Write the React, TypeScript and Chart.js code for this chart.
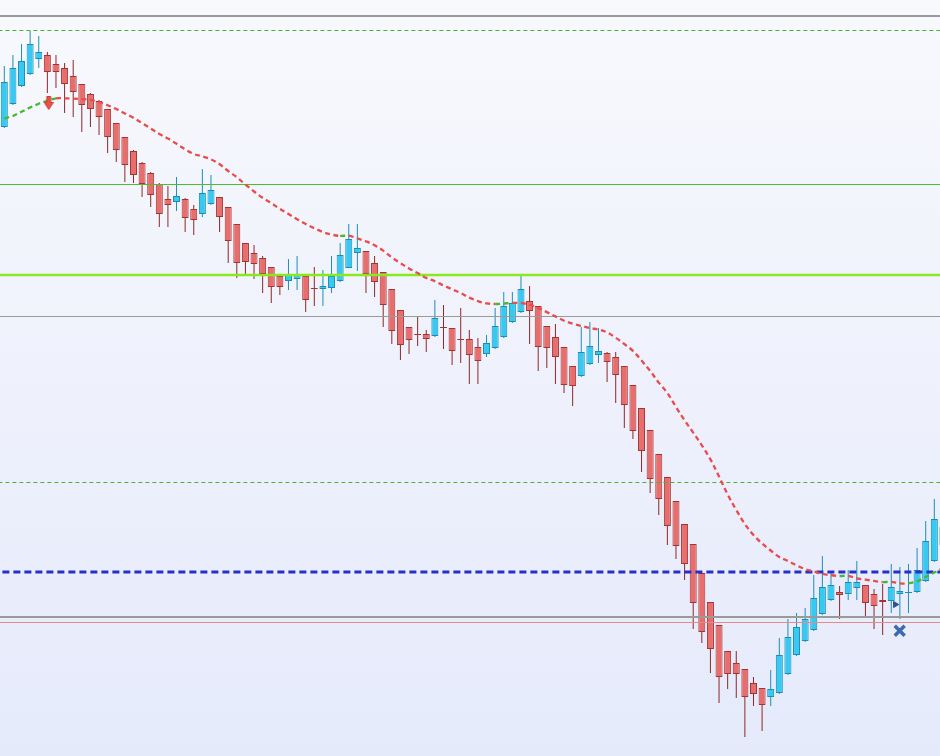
import React, { useEffect, useRef } from "react";
import { Chart, registerables } from "chart.js";

Chart.register(...registerables);

// ---- Candle data (index 0 .. 109) ----
const OPEN = [
  1.1873, 1.1896, 1.1914, 1.1926, 1.1941, 1.1945, 1.1936, 1.1932, 1.1924, 1.1916,
  1.1906, 1.1899, 1.1891, 1.1877, 1.1863, 1.1849, 1.1837, 1.1827, 1.1816, 1.1801,
  1.1798, 1.1801, 1.1791, 1.1786, 1.1796, 1.1803, 1.1793, 1.1776, 1.1757, 1.1747,
  1.1742, 1.1733, 1.1724, 1.1719, 1.1721, 1.1724, 1.1712, 1.1711, 1.1712, 1.1719,
  1.1732, 1.1747, 1.1749, 1.1737, 1.1728, 1.1711, 1.169, 1.1673, 1.1666, 1.1666,
  1.1664, 1.1673, 1.1672, 1.1661, 1.1661, 1.1653, 1.1646, 1.1652, 1.1663, 1.1678,
  1.1688, 1.1699, 1.1694, 1.1674, 1.1663, 1.1653, 1.1634, 1.1624, 1.1636, 1.1645,
  1.1647, 1.1643, 1.1634, 1.1615, 1.1592, 1.157, 1.1546, 1.1523, 1.1499, 1.1476,
  1.1456, 1.1427, 1.1398, 1.1375, 1.1349, 1.1337, 1.1331, 1.1317, 1.1312, 1.1303,
  1.1307, 1.1326, 1.1345, 1.1359, 1.137, 1.1386, 1.14, 1.1408, 1.1406, 1.1412,
  1.1415, 1.1406, 1.14, 1.1399, 1.1406, 1.1407, 1.1408, 1.1419, 1.1439, 1.1455,
];
const HIGH = [
  1.1934, 1.1945, 1.1956, 1.1969, 1.1964, 1.1948, 1.1945, 1.1937, 1.194, 1.1916,
  1.1907, 1.19, 1.1891, 1.1877, 1.1863, 1.185, 1.1838, 1.1828, 1.1817, 1.1814,
  1.1823, 1.1802, 1.1795, 1.1831, 1.1825, 1.1803, 1.1793, 1.1776, 1.1757, 1.1755,
  1.1744, 1.1733, 1.1724, 1.1741, 1.1744, 1.1724, 1.1733, 1.173, 1.1744, 1.1757,
  1.1776, 1.1776, 1.1749, 1.1744, 1.1728, 1.1711, 1.169, 1.1673, 1.1683, 1.167,
  1.17, 1.1695, 1.1672, 1.1692, 1.167, 1.1662, 1.1665, 1.1692, 1.1708, 1.1708,
  1.1724, 1.1714, 1.1694, 1.1674, 1.1676, 1.1653, 1.1634, 1.1673, 1.1678, 1.1672,
  1.1648, 1.1648, 1.1634, 1.1615, 1.1592, 1.157, 1.1546, 1.1523, 1.1499, 1.1476,
  1.1456, 1.1427, 1.1398, 1.1375, 1.1349, 1.1349, 1.1331, 1.1323, 1.1312, 1.133,
  1.1362, 1.1381, 1.1387, 1.1392, 1.1425, 1.1444, 1.1427, 1.1414, 1.143, 1.1439,
  1.1415, 1.1411, 1.1416, 1.1436, 1.1433, 1.1436, 1.1452, 1.1479, 1.1501, 1.1495,
];
const LOW = [
  1.1872, 1.1895, 1.1913, 1.1925, 1.1932, 1.1907, 1.1912, 1.1887, 1.1883, 1.1868,
  1.1873, 1.1865, 1.1847, 1.1838, 1.1818, 1.1817, 1.1803, 1.1793, 1.1773, 1.1773,
  1.1789, 1.1768, 1.1765, 1.1783, 1.1795, 1.1768, 1.1737, 1.1722, 1.1726, 1.1721,
  1.1707, 1.1697, 1.1705, 1.171, 1.171, 1.1688, 1.1694, 1.1694, 1.1707, 1.1718,
  1.1732, 1.1729, 1.1707, 1.1703, 1.1673, 1.1656, 1.164, 1.1646, 1.1654, 1.1648,
  1.1663, 1.1651, 1.1635, 1.1637, 1.1616, 1.1616, 1.1643, 1.1651, 1.1662, 1.1677,
  1.1687, 1.1656, 1.1629, 1.1632, 1.1616, 1.1607, 1.1594, 1.1623, 1.1635, 1.1637,
  1.1618, 1.1597, 1.1572, 1.1561, 1.1528, 1.1507, 1.1485, 1.1455, 1.1441, 1.142,
  1.1371, 1.1357, 1.1327, 1.1297, 1.1311, 1.1302, 1.1263, 1.1294, 1.1269, 1.1294,
  1.1306, 1.1325, 1.1344, 1.1358, 1.1369, 1.1385, 1.1399, 1.1381, 1.14, 1.14,
  1.1384, 1.1371, 1.1365, 1.1387, 1.1381, 1.1387, 1.1407, 1.1418, 1.1438, 1.1452,
];
const CLOSE = [
  1.1918, 1.1932, 1.1939, 1.1956, 1.1948, 1.1928, 1.1928, 1.1916, 1.1908, 1.1895,
  1.1891, 1.1883, 1.1863, 1.185, 1.1835, 1.1825, 1.1816, 1.1805, 1.1786, 1.1795,
  1.1804, 1.1782, 1.178, 1.1807, 1.181, 1.1783, 1.1759, 1.1737, 1.1738, 1.1736,
  1.1726, 1.1713, 1.1713, 1.1726, 1.1726, 1.17, 1.1711, 1.1714, 1.1724, 1.1745,
  1.1761, 1.1752, 1.1726, 1.1718, 1.1695, 1.1669, 1.1655, 1.166, 1.1665, 1.1661,
  1.1682, 1.1672, 1.1649, 1.166, 1.1645, 1.1639, 1.1657, 1.1674, 1.1694, 1.1697,
  1.1711, 1.1689, 1.1653, 1.1652, 1.1643, 1.1615, 1.1614, 1.1648, 1.1654, 1.1649,
  1.1638, 1.1625, 1.1595, 1.1569, 1.1549, 1.1521, 1.1501, 1.1474, 1.1454, 1.1436,
  1.1397, 1.1368, 1.1351, 1.1323, 1.1326, 1.1326, 1.1303, 1.1306, 1.1295, 1.1311,
  1.1345, 1.1363, 1.1373, 1.1381, 1.1402, 1.1413, 1.1415, 1.1405, 1.1418, 1.1418,
  1.1397, 1.1394, 1.1398, 1.1413, 1.1409, 1.1408, 1.143, 1.1459, 1.1481, 1.1473,
];

// ---- Moving average (one value per candle) ----
const MA = [
  1.18815, 1.1884, 1.18883, 1.18925, 1.18963, 1.18992, 1.19017, 1.19016, 1.19014, 1.19009,
  1.19002, 1.1898, 1.18948, 1.1891, 1.18866, 1.18822, 1.18769, 1.18715, 1.1866, 1.18614,
  1.18562, 1.18507, 1.1846, 1.18436, 1.18406, 1.18358, 1.1829, 1.18228, 1.18155, 1.18085,
  1.18022, 1.17969, 1.17911, 1.1786, 1.17808, 1.1776, 1.17718, 1.1768, 1.17654, 1.17641,
  1.17643, 1.17616, 1.17586, 1.17548, 1.17494, 1.17426, 1.17369, 1.17316, 1.17269, 1.17221,
  1.17188, 1.17146, 1.17107, 1.1707, 1.17024, 1.16989, 1.16967, 1.1696, 1.16965, 1.16971,
  1.1697, 1.16953, 1.16921, 1.16879, 1.16836, 1.16793, 1.16763, 1.16741, 1.16719, 1.16704,
  1.16676, 1.16623, 1.1656, 1.16491, 1.16394, 1.16291, 1.16174, 1.16071, 1.1593, 1.15797,
  1.15674, 1.15547, 1.15406, 1.15235, 1.15055, 1.149, 1.1476, 1.1465, 1.14565, 1.14495,
  1.1443, 1.1439, 1.14347, 1.14309, 1.14285, 1.14261, 1.14248, 1.1424, 1.14242, 1.14216,
  1.14204, 1.14191, 1.14179, 1.14181, 1.14167, 1.14166, 1.14187, 1.1423, 1.14275, 1.1432,
];

// ---- Horizontal price levels ----
const LEVELS = [1.1984, 1.19695, 1.18155, 1.1725, 1.16835, 1.15175, 1.1428, 1.1383, 1.13775];

// ---- Markers ----
const SELL_ARROW = { x: 5.16, y: 1.1897 };
const ENTRY_TRIANGLE = { x: 103.47, y: 1.13955 };
const STOP_CROSS = { x: 103.98, y: 1.13693 };

// ---- Visible window ----
const X_MIN = -0.5;
const X_MAX = 108.66;
const Y_MIN = 1.1244;
const Y_MAX = 1.2;

const LEVEL_STYLES = [
  { color: "#9a9a9a", width: 2, dash: [] as number[] },
  { color: "#4cb034", width: 1, dash: [4, 3] },
  { color: "#4fbb30", width: 1, dash: [] },
  { color: "#8ae81e", width: 2.5, dash: [] },
  { color: "#9a9a9a", width: 1, dash: [] },
  { color: "#4cb034", width: 1, dash: [4, 3] },
  { color: "#2630c8", width: 3, dash: [7, 4] },
  { color: "#9a9a9a", width: 2, dash: [] },
  { color: "#e38a8a", width: 1, dash: [] },
];

const bgPlugin = {
  id: "bgGradient",
  beforeDraw(chart: any) {
    const { ctx, width, height } = chart;
    const g = ctx.createLinearGradient(0, 0, 0, height);
    g.addColorStop(0, "#f8f9fd");
    g.addColorStop(1, "#e5eafb");
    ctx.save();
    ctx.fillStyle = g;
    ctx.fillRect(0, 0, width, height);
    ctx.restore();
  },
};

function makeArrow(): HTMLCanvasElement {
  const c = document.createElement("canvas");
  c.width = 10;
  c.height = 14;
  const g = c.getContext("2d")!;
  g.fillStyle = "#ea5048";
  g.strokeStyle = "#c83c34";
  g.lineWidth = 1;
  g.beginPath();
  g.moveTo(3, 0.5);
  g.lineTo(7, 0.5);
  g.lineTo(7, 6.5);
  g.lineTo(9.5, 6.5);
  g.lineTo(5, 13.5);
  g.lineTo(0.5, 6.5);
  g.lineTo(3, 6.5);
  g.closePath();
  g.fill();
  g.stroke();
  return c;
}

export default function App() {
  const ref = useRef<HTMLCanvasElement | null>(null);

  useEffect(() => {
    document.body.style.margin = "0";
    const canvas = ref.current;
    if (!canvas) return;

    const idx = OPEN.map((_, i) => i);
    const bull = (i: number) => CLOSE[i] >= OPEN[i];

    const wicks = idx.map((i) => ({ x: i, y: [LOW[i], HIGH[i]] }));
    const bodies = idx.map((i) => ({ x: i, y: [OPEN[i], CLOSE[i]] }));

    const levelSets = LEVELS.map((p, k) => ({
      type: "line" as const,
      data: [
        { x: X_MIN - 1, y: p },
        { x: X_MAX + 1, y: p },
      ],
      borderColor: LEVEL_STYLES[k].color,
      borderWidth: LEVEL_STYLES[k].width,
      borderDash: LEVEL_STYLES[k].dash,
      pointRadius: 0,
      order: 5,
    }));

    const chart = new Chart(canvas, {
      type: "bar",
      data: {
        datasets: [
          {
            type: "bar",
            data: wicks as any,
            backgroundColor: idx.map((i) => (bull(i) ? "#1d8db6" : "#8e2626")),
            borderWidth: 0,
            grouped: false,
            categoryPercentage: 1,
            barPercentage: 1,
            maxBarThickness: 1,
            inflateAmount: 0,
            order: 10,
          } as any,
          {
            type: "bar",
            data: bodies as any,
            backgroundColor: idx.map((i) => (bull(i) ? "#38c9f3" : "#e86e6e")),
            borderColor: idx.map((i) => (bull(i) ? "#1b8db5" : "#a53333")),
            borderWidth: 1,
            borderSkipped: false,
            grouped: false,
            categoryPercentage: 1,
            barPercentage: 1,
            maxBarThickness: 7,
            inflateAmount: 0,
            order: 9,
          } as any,
          ...levelSets,
          {
            type: "line",
            data: MA.map((v, i) => ({ x: i, y: v })),
            borderWidth: 2.3,
            borderDash: [5, 3.5],
            borderColor: "#e84c4c",
            pointRadius: 0,
            tension: 0.35,
            segment: {
              borderColor: (c: any) =>
                c.p1.parsed.y > c.p0.parsed.y ? "#47b832" : "#e84c4c",
            },
            order: 3,
          } as any,
          {
            type: "scatter",
            data: [SELL_ARROW],
            pointStyle: makeArrow(),
            pointRadius: 7,
            order: 1,
          } as any,
          {
            type: "scatter",
            data: [ENTRY_TRIANGLE],
            pointStyle: "triangle",
            rotation: 90,
            pointRadius: 3.5,
            backgroundColor: "#2d4f9c",
            borderColor: "#2d4f9c",
            borderWidth: 1,
            order: 1,
          } as any,
          {
            type: "scatter",
            data: [STOP_CROSS],
            pointStyle: "crossRot",
            pointRadius: 7,
            borderColor: "#3d69b3",
            borderWidth: 3.5,
            order: 1,
          } as any,
        ],
      },
      options: {
        responsive: false,
        animation: false,
        devicePixelRatio: 1,
        events: [],
        layout: { padding: 0, autoPadding: false },
        plugins: { legend: { display: false }, tooltip: { enabled: false } },
        scales: {
          x: { type: "linear", min: X_MIN, max: X_MAX, display: false, offset: false },
          y: { type: "linear", min: Y_MIN, max: Y_MAX, display: false },
        },
      },
      plugins: [bgPlugin],
    });

    return () => chart.destroy();
  }, []);

  return (
    <canvas
      ref={ref}
      width={940}
      height={756}
      style={{ display: "block", width: 940, height: 756 }}
    />
  );
}
